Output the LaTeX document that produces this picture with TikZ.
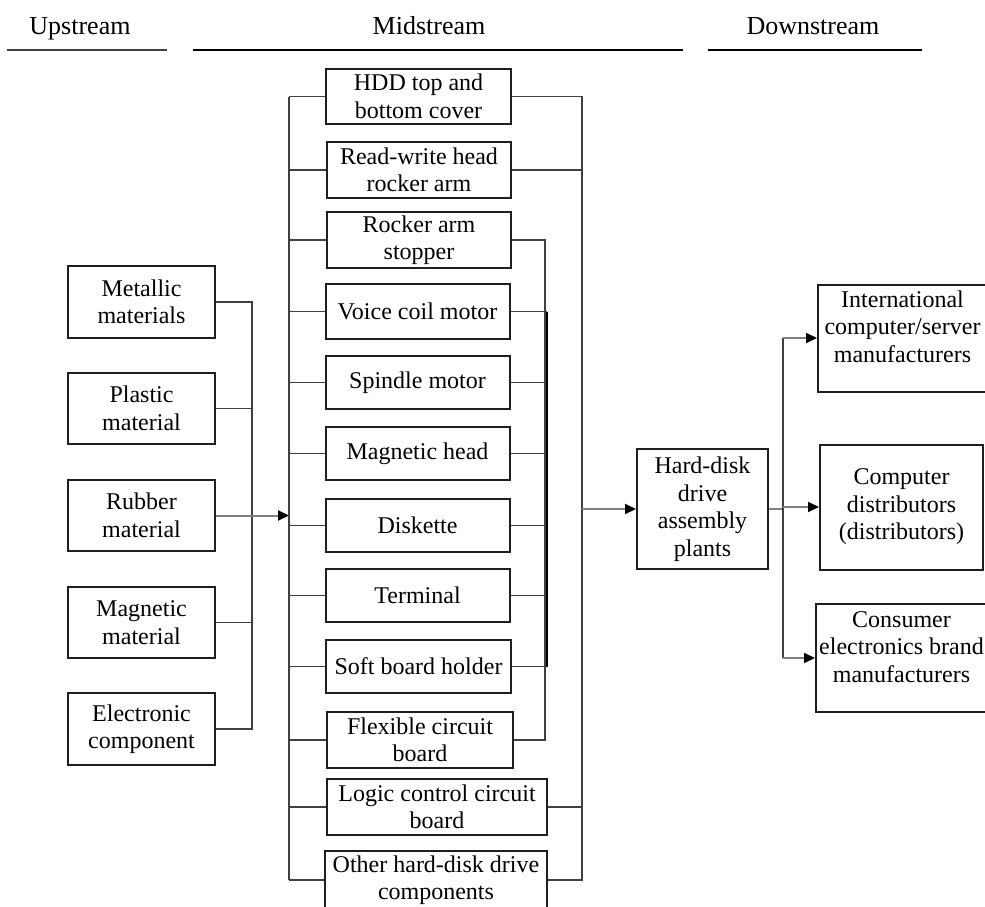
\documentclass[tikz,border=0pt]{standalone}
\usepackage{fontspec}
\setmainfont{Liberation Serif}
\usetikzlibrary{arrows.meta}
\begin{document}
\begin{tikzpicture}[x=1pt,y=-1pt,
  box/.style={draw=black!88,line width=2pt,inner sep=0pt,align=center,
    font=\fontsize{24}{27.5}\selectfont},
  lbl/.style={inner sep=0pt,align=center,font=\fontsize{24}{27.5}\selectfont},
  hdr/.style={inner sep=0pt,anchor=base,font=\fontsize{26}{30}\selectfont},
  conn/.style={draw=black!75,line width=1.5pt},
  arr/.style={draw=black!50,line width=2pt,-{Triangle[length=11pt,width=10pt,color=black]}},
  gline/.style={draw=black!50,line width=2pt}]
\useasboundingbox (0,0) rectangle (985,907);
% headers
\node[hdr] (up) at (80,35) {Upstream};
\node[hdr] (mid) at (429,35) {Midstream};
\node[hdr] (down) at (813,35) {Downstream};
\draw[draw=black!75,line width=1.4pt] (7,50) -- (167,50);
\draw[draw=black,line width=2.4pt] (193,50) -- (683,50);
\draw[draw=black,line width=2.4pt] (708,50) -- (922,50);
% bus coordinates
\coordinate (lbus) at (252,0);
\coordinate (mbus) at (289,0);
\coordinate (sbus) at (545,0);
\coordinate (tbus) at (547,0);
\coordinate (rbus) at (582,0);
\coordinate (dbus) at (783,0);
% upstream
\node[box,minimum width=147pt,minimum height=72pt] (met) at (141.5,302) {Metallic\\materials};
\node[box,minimum width=147pt,minimum height=71pt] (pla) at (141.5,408.5) {Plastic\\material};
\node[box,minimum width=147pt,minimum height=71pt] (rub) at (141.5,515.5) {Rubber\\material};
\node[box,minimum width=147pt,minimum height=71pt] (mag) at (141.5,622.5) {Magnetic\\material};
\node[box,minimum width=147pt,minimum height=72pt] (ele) at (141.5,729) {Electronic\\component};
% midstream
\node[box,minimum width=185pt,minimum height=55pt] (hdd) at (418.5,96.5) {HDD top and\\bottom cover};
\node[box,minimum width=184pt,minimum height=56pt] (rw) at (419,170) {Read-write head\\rocker arm};
\node[box,minimum width=184pt,minimum height=56pt] (ras) at (419,240) {Rocker arm\\stopper};
\node[box,minimum width=184pt,minimum height=55pt] (vcm) at (417.5,311.5) {Voice coil motor};
\node[box,minimum width=184pt,minimum height=53pt] (spm) at (417.5,382.5) {Spindle motor};
\node[box,minimum width=184pt,minimum height=53pt] (mh) at (417.5,453.5) {Magnetic head};
\node[box,minimum width=184pt,minimum height=53pt] (dsk) at (417.5,525.5) {Diskette};
\node[box,minimum width=184pt,minimum height=53pt] (ter) at (417.5,595.5) {Terminal};
\node[box,minimum width=185pt,minimum height=53pt] (sbh) at (418.5,666.5) {Soft board holder};
\node[box,minimum width=186pt,minimum height=56pt] (fcb) at (420,740) {Flexible circuit\\board};
\node[box,minimum width=220pt,minimum height=56pt] (lcc) at (437,807) {Logic control circuit\\board};
\node[box,minimum width=222pt,minimum height=58pt] (oth) at (436,880) {Other hard-disk drive\\components};
% assembly
\node[box,minimum width=131pt,minimum height=120pt] (hd) at (702.5,509) {Hard-disk\\drive\\assembly\\plants};
% downstream
\node[box,minimum width=169pt,minimum height=107pt,
  label={[lbl,anchor=north,yshift=-7pt]north:{International\\computer/server\\manufacturers}}] (intl) at (902.5,338) {};
\node[box,minimum width=163pt,minimum height=125pt] (comp) at (901.5,507) {Computer\\distributors\\(distributors)};
\node[box,minimum width=171pt,minimum height=108pt,
  label={[lbl,anchor=north,yshift=-8pt]north:{Consumer\\electronics brand\\manufacturers}}] (cons) at (901.5,658) {};
% upstream connectors
\draw[conn] (met.east) -- (met.east -| lbus) -- (ele.east -| lbus) -- (ele.east);
\foreach \n in {pla,mag} \draw[conn] (\n.east) -- (\n.east -| lbus);
\draw[arr] (rub.east) -- (rub.east -| mbus);
% midstream left bus
\draw[conn] (hdd.west -| mbus) -- (oth.west -| mbus);
\foreach \n in {hdd,rw,ras,vcm,spm,mh,dsk,ter,sbh,fcb,lcc,oth}
  \draw[conn] (\n.west) -- (\n.west -| mbus);
% midstream right buses
\draw[conn] (hdd.east) -- (hdd.east -| rbus) -- (oth.east -| rbus) -- (oth.east);
\foreach \n in {rw,lcc} \draw[conn] (\n.east) -- (\n.east -| rbus);
\draw[conn] (ras.east) -- (ras.east -| sbus) -- (fcb.east -| sbus) -- (fcb.east);
\foreach \n in {vcm,spm,mh,dsk,ter,sbh} \draw[conn] (\n.east) -- (\n.east -| tbus);
\draw[draw=black,line width=2.8pt] (vcm.east -| tbus) -- (sbh.east -| tbus);
% to assembly
\draw[arr] (hd.west -| rbus) -- (hd.west);
% downstream
\draw[gline] (hd.east) -- (hd.east -| dbus);
\draw[conn] (intl.west -| dbus) -- (cons.west -| dbus);
\draw[arr] (intl.west -| dbus) -- (intl.west);
\draw[arr] (comp.west -| dbus) -- (comp.west);
\draw[arr] (cons.west -| dbus) -- (cons.west);
\end{tikzpicture}
\end{document}
